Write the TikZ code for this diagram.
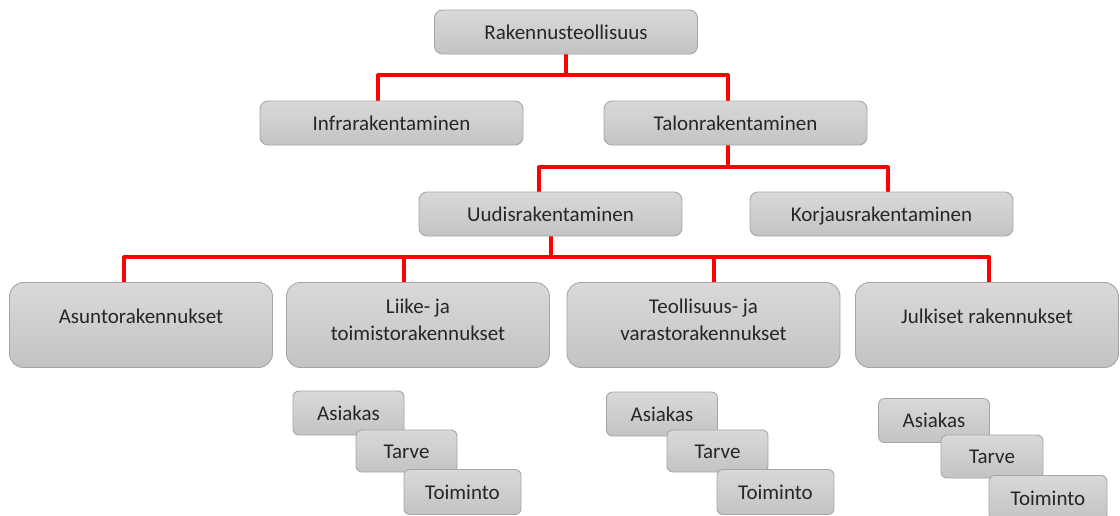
\documentclass[tikz,border=0pt]{standalone}
\usepackage{fontspec}
\setmainfont{Carlito}
\usetikzlibrary{backgrounds}
\definecolor{boxtop}{HTML}{D9D9D9}
\definecolor{boxbot}{HTML}{C3C3C3}
\definecolor{boxline}{HTML}{A6A6A6}
\definecolor{linkred}{HTML}{FF0000}
\definecolor{ink}{HTML}{262626}
% extra depth below the last text line, lifts the text inside tall boxes
\newcommand{\lowpad}[1]{\rule[-#1]{0pt}{0pt}}
\begin{document}
\begin{tikzpicture}[x=1pt,y=-1pt,
  box/.style={draw=boxline, line width=0.9pt, top color=boxtop, bottom color=boxbot,
    inner sep=0pt, text=ink, font=\fontsize{21}{27}\selectfont, align=center},
  levelbox/.style={box, rounded corners=8pt, minimum width=263pt, minimum height=44pt,
    text height=14pt, text depth=0pt},
  sectorbox/.style={box, rounded corners=14pt, minimum height=85pt},
  onerow/.style={text height=14pt, text depth=18pt},
  chipbox/.style={box, rounded corners=6pt, text height=14pt, text depth=0pt},
  link/.style={draw=linkred, line width=4pt, line join=round},
]
\useasboundingbox (0,0) rectangle (1120,515);

% hierarchy levels
\node[levelbox] (R) at (566,32)    {Rakennusteollisuus};
\node[levelbox] (I) at (391.5,123) {Infrarakentaminen};
\node[levelbox] (T) at (735.5,123) {Talonrakentaminen};
\node[levelbox] (U) at (550.5,214) {Uudisrakentaminen};
\node[levelbox] (K) at (881.5,214) {Korjausrakentaminen};

% building sectors
\node[sectorbox, onerow, minimum width=263pt] (A)  at (141,325) {Asuntorakennukset};
\node[sectorbox, minimum width=263pt] (L)  at (418,325) {Liike- ja\\toimistorakennukset\lowpad{10pt}};
\node[sectorbox, minimum width=273pt] (Te) at (703.5,325) {Teollisuus- ja\\varastorakennukset\lowpad{10pt}};
\node[sectorbox, onerow, minimum width=263pt] (J)  at (987,325) {Julkiset rakennukset};

% customer / need / activity chains
\node[chipbox, minimum width=111pt, minimum height=44pt] (a1) at (348.5,413) {Asiakas};
\node[chipbox, minimum width=101pt, minimum height=42pt] (t1) at (406.5,451) {Tarve};
\node[chipbox, minimum width=117pt, minimum height=45pt] (o1) at (462.5,492) {Toiminto};

\node[chipbox, minimum width=111pt, minimum height=44pt] (a2) at (662,414) {Asiakas};
\node[chipbox, minimum width=101pt, minimum height=42pt] (t2) at (717.5,451) {Tarve};
\node[chipbox, minimum width=117pt, minimum height=45pt] (o2) at (775.5,492) {Toiminto};

\node[chipbox, minimum width=111pt, minimum height=44pt] (a3) at (934,420.5) {Asiakas};
\node[chipbox, minimum width=102pt, minimum height=43pt] (t3) at (992,456.5) {Tarve};
\node[chipbox, minimum width=118pt, minimum height=45pt] (o3) at (1048,498) {Toiminto};

% red connectors behind the boxes
\begin{scope}[on background layer]
  \draw[link] (R.south) -- ++(0,21) -| ([xshift=-13.5pt]I.north);
  \draw[link] (R.south) -- ++(0,21) -| ([xshift=-7.5pt]T.north);
  \draw[link] ([xshift=-7.5pt]T.south) -- ++(0,22) -| ([xshift=-11.5pt]U.north);
  \draw[link] ([xshift=-7.5pt]T.south) -- ++(0,22) -| ([xshift=6.5pt]K.north);
  \draw[link] (U.south) -- ++(0,21) -| ([xshift=-17pt]A.north);
  \draw[link] (U.south) -- ++(0,21) -| ([xshift=-14pt]L.north);
  \draw[link] (U.south) -- ++(0,21) -| ([xshift=10pt]Te.north);
  \draw[link] (U.south) -- ++(0,21) -| ([xshift=2pt]J.north);
\end{scope}
\end{tikzpicture}
\end{document}
